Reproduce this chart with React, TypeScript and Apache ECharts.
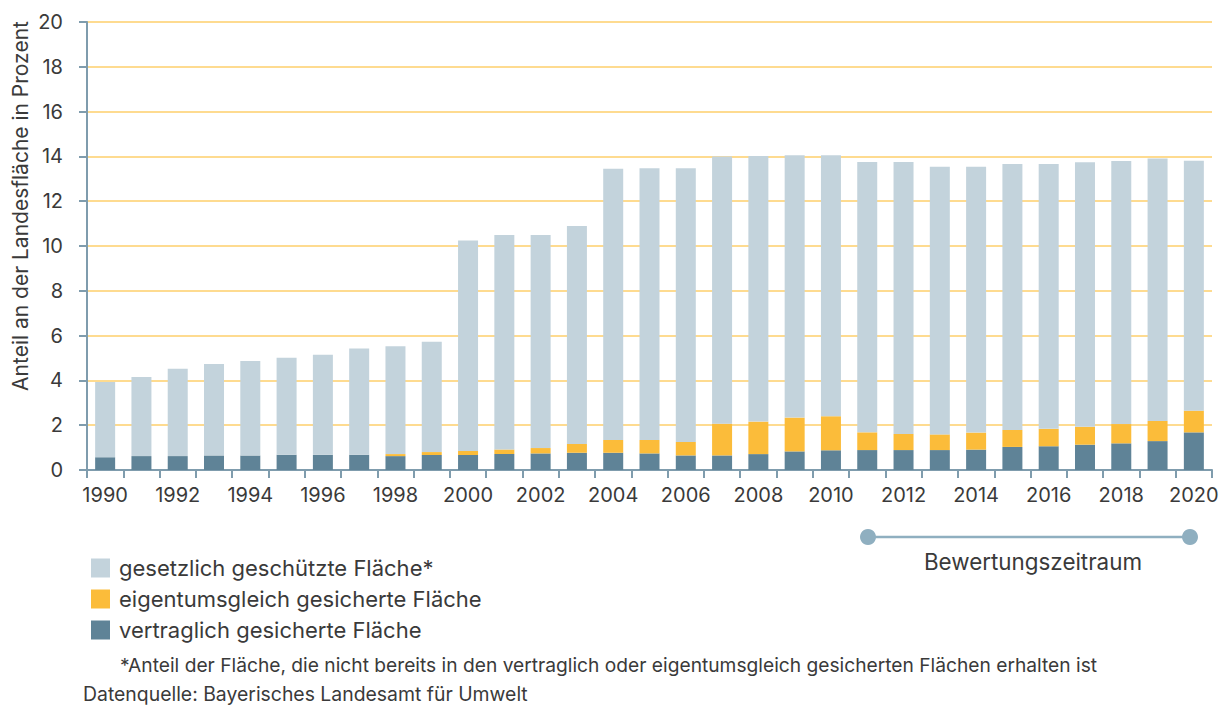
import React, { useEffect, useRef } from "react";
import * as echarts from "echarts";

const years = [
  "1990","1991","1992","1993","1994","1995","1996","1997","1998","1999",
  "2000","2001","2002","2003","2004","2005","2006","2007","2008","2009",
  "2010","2011","2012","2013","2014","2015","2016","2017","2018","2019","2020",
];

// Gesamtanteil (Oberkante der Säulen)
const totals = [
  3.93, 4.15, 4.52, 4.73, 4.87, 5.01, 5.15, 5.42, 5.52, 5.73,
  10.25, 10.49, 10.49, 10.89, 13.45, 13.47, 13.47, 13.99, 14.02, 14.05,
  14.05, 13.75, 13.75, 13.54, 13.54, 13.66, 13.66, 13.74, 13.79, 13.91, 13.81,
];

const vertraglich = [
  0.57, 0.62, 0.62, 0.65, 0.65, 0.68, 0.68, 0.68, 0.62, 0.67,
  0.67, 0.71, 0.74, 0.77, 0.77, 0.74, 0.65, 0.65, 0.71, 0.83,
  0.88, 0.89, 0.89, 0.89, 0.91, 1.03, 1.06, 1.13, 1.19, 1.29, 1.68,
];

const eigentumsgleich = [
  0, 0, 0, 0, 0, 0, 0, 0, 0.09, 0.13,
  0.18, 0.21, 0.24, 0.39, 0.57, 0.6, 0.6, 1.42, 1.45, 1.51,
  1.52, 0.79, 0.72, 0.7, 0.76, 0.76, 0.78, 0.8, 0.86, 0.9, 0.97,
];

const gesetzlich = totals.map((t, i) =>
  Math.round((t - vertraglich[i] - eigentumsgleich[i]) * 100) / 100
);

const yTicks = { min: 0, max: 20, interval: 2 };

const FONT = "Inter, Liberation Sans, Arial, sans-serif";
const TEXT = "#3a3a3a";
const AXIS = "#7f9cad";

export default function App() {
  const ref = useRef<HTMLDivElement>(null);

  useEffect(() => {
    document.body.style.margin = "0";
    if (!ref.current) return;
    const chart = echarts.init(ref.current, undefined, { renderer: "svg" });
    chart.setOption({
      animation: false,
      backgroundColor: "#ffffff",
      textStyle: { fontFamily: FONT },
      grid: { left: 87, right: 13, top: 22, bottom: 236, containLabel: false },
      legend: {
        orient: "vertical",
        left: 86,
        top: 552,
        itemWidth: 19,
        itemHeight: 19,
        itemGap: 9,
        icon: "rect",
        selectedMode: false,
        data: [
          "gesetzlich geschützte Fläche*",
          "eigentumsgleich gesicherte Fläche",
          "vertraglich gesicherte Fläche",
        ],
        textStyle: { fontSize: 22, color: TEXT, fontFamily: FONT, padding: [0, 0, 0, 4] },
      },
      xAxis: {
        type: "category",
        data: years,
        boundaryGap: true,
        axisLine: { show: true, lineStyle: { color: AXIS, width: 2 } },
        axisTick: {
          show: true,
          interval: 0,
          alignWithLabel: false,
          length: 8,
          lineStyle: { color: AXIS, width: 2 },
        },
        axisLabel: {
          interval: 1,
          fontSize: 20,
          color: TEXT,
          margin: 15,
          fontFamily: FONT,
        },
        splitLine: { show: false },
      },
      yAxis: {
        type: "value",
        min: yTicks.min,
        max: yTicks.max,
        interval: yTicks.interval,
        axisLine: { show: true, lineStyle: { color: AXIS, width: 2 } },
        axisTick: { show: true, length: 8, lineStyle: { color: AXIS, width: 2 } },
        axisLabel: { fontSize: 20, color: TEXT, margin: 24, fontFamily: FONT },
        splitLine: { show: true, lineStyle: { color: "#fedb90", width: 2 } },
      },
      series: [
        {
          name: "vertraglich gesicherte Fläche",
          type: "bar",
          stack: "a",
          barWidth: 20,
          data: vertraglich,
          itemStyle: { color: "#5f8397" },
        },
        {
          name: "eigentumsgleich gesicherte Fläche",
          type: "bar",
          stack: "a",
          barWidth: 20,
          data: eigentumsgleich,
          itemStyle: { color: "#fbbc3a" },
        },
        {
          name: "gesetzlich geschützte Fläche*",
          type: "bar",
          stack: "a",
          barWidth: 20,
          data: gesetzlich,
          itemStyle: { color: "#c3d3dc" },
        },
      ],
      graphic: [
        {
          type: "text",
          x: 20,
          y: 206,
          rotation: Math.PI / 2,
          style: {
            text: "Anteil an der Landesfläche in Prozent",
            fontSize: 21,
            fontFamily: FONT,
            fill: TEXT,
            align: "center",
            verticalAlign: "middle",
          },
        },
        {
          type: "line",
          shape: { x1: 868, y1: 537, x2: 1190, y2: 537 },
          style: { stroke: "#8fafc0", lineWidth: 2.5 },
        },
        { type: "circle", shape: { cx: 868, cy: 537, r: 8 }, style: { fill: "#8fafc0" } },
        { type: "circle", shape: { cx: 1190, cy: 537, r: 8 }, style: { fill: "#8fafc0" } },
        {
          type: "text",
          x: 1033,
          y: 561,
          style: {
            text: "Bewertungszeitraum",
            fontSize: 22.4,
            fontFamily: FONT,
            fill: TEXT,
            align: "center",
            verticalAlign: "middle",
          },
        },
        {
          type: "text",
          x: 120,
          y: 665,
          style: {
            text:
              "*Anteil der Fläche, die nicht bereits in den vertraglich oder eigentumsgleich gesicherten Flächen erhalten ist",
            fontSize: 19.2,
            fontFamily: FONT,
            fill: TEXT,
            align: "left",
            verticalAlign: "middle",
          },
        },
        {
          type: "text",
          x: 83,
          y: 694,
          style: {
            text: "Datenquelle: Bayerisches Landesamt für Umwelt",
            fontSize: 19.4,
            fontFamily: FONT,
            fill: TEXT,
            align: "left",
            verticalAlign: "middle",
          },
        },
      ],
    });
    return () => chart.dispose();
  }, []);

  return <div ref={ref} style={{ width: 1225, height: 706 }} />;
}
